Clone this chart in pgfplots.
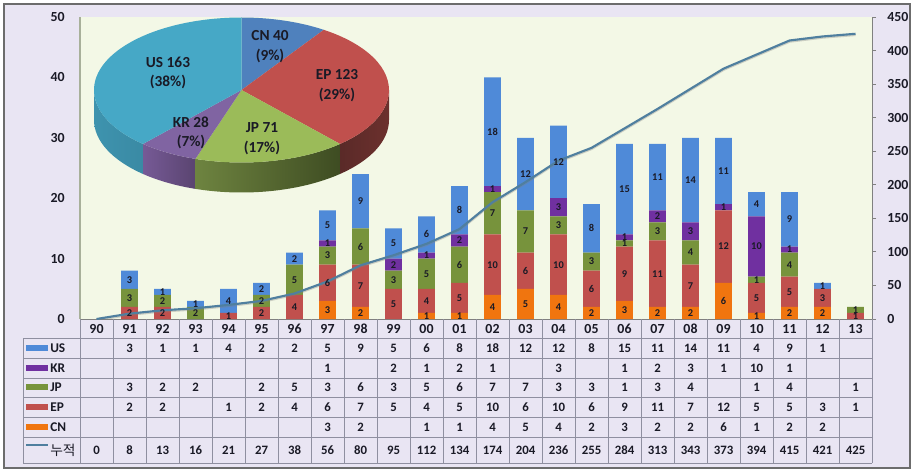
\documentclass[border=0pt]{standalone}
\usepackage{pgfplots}
\usepackage{pgfplotstable}
\usepackage{fontspec}
\pgfplotsset{compat=1.18}
\setmainfont{Carlito}
\newfontfamily\krfont{Noto Sans CJK KR}
\definecolor{cUS}{HTML}{4F8AD8}
\definecolor{cKR}{HTML}{7030A0}
\definecolor{cJP}{HTML}{77933C}
\definecolor{cEP}{HTML}{C0504D}
\definecolor{cCN}{HTML}{F0750F}
\definecolor{cLine}{HTML}{4F7F9F}
\definecolor{cGrid}{HTML}{8F8FA0}
\definecolor{cBack}{HTML}{E9E5F3}
\definecolor{cPlot}{HTML}{F3F8E6}
\definecolor{cText}{HTML}{1A1A26}
\definecolor{cAxisL}{HTML}{A8B09A}
\definecolor{pCN}{HTML}{4F81BD}
\definecolor{pEP}{HTML}{C0504D}
\definecolor{pJP}{HTML}{9BBB59}
\definecolor{pKR}{HTML}{8064A2}
\definecolor{pUS}{HTML}{46A8C6}
\definecolor{s1l}{HTML}{3E93AE}\definecolor{s1r}{HTML}{3A8AA4}
\definecolor{s2l}{HTML}{765A96}\definecolor{s2r}{HTML}{5A4470}
\definecolor{s3l}{HTML}{6E8440}\definecolor{s3r}{HTML}{3E4C22}
\definecolor{s4l}{HTML}{5A2A28}\definecolor{s4r}{HTML}{6C302D}
\pgfplotstableread{
x CN EP JP KR US Total
0 0 0 0 0 0 0
1 0 2 3 0 3 8
2 0 2 2 0 1 13
3 0 0 2 0 1 16
4 0 1 0 0 4 21
5 0 2 2 0 2 27
6 0 4 5 0 2 38
7 3 6 3 1 5 56
8 2 7 6 0 9 80
9 0 5 3 2 5 95
10 1 4 5 1 6 112
11 1 5 6 2 8 134
12 4 10 7 1 18 174
13 5 6 7 0 12 204
14 4 10 3 3 12 236
15 2 6 3 0 8 255
16 3 9 1 1 15 284
17 2 11 3 2 11 313
18 2 7 4 3 14 343
19 6 12 0 1 11 373
20 1 5 1 10 4 394
21 2 5 4 1 9 415
22 2 3 0 0 1 421
23 0 1 1 0 0 425
}\datatable
\pgfplotsset{
  common/.style={
    at={(60pt,114.75pt)}, anchor=south west, scale only axis,
    width=594pt, height=226.5pt,
    xmin=-0.5, xmax=23.5,
    /pgf/number format/assume math mode=true,
    tick label style={font=\bfseries\fontsize{10.4}{12}\selectfont, text=cText},
  },
  barseries/.style={fill=#1, draw=none},
  labelseries/.style={
    draw=none, mark=none, forget plot,
    restrict expr to domain={\thisrow{#1}}{0.5:100},
    point meta={\thisrow{#1}},
    nodes near coords,
    every node near coord/.append style={
      anchor=center, inner sep=0pt, text=cText,
      font=\bfseries\fontsize{7.8}{9}\selectfont,
    },
  },
}
\begin{document}
\begin{tikzpicture}
\begin{scope}[x=0.75pt,y=0.75pt]
\useasboundingbox (0,0) rectangle (914,472);
\fill[white] (0,0) rectangle (914,472);
\filldraw[fill=cBack,draw=gray!85!black,line width=0.9pt] (4,4) rectangle (910,468);
\fill[cPlot] (80,153) rectangle (872,455);
\end{scope}

\begin{axis}[common,
  ybar stacked, bar width=12.4pt, bar shift=0pt,
  ymin=0, ymax=50, ytick={0,10,...,50},
  axis y line*=left, axis x line*=bottom,
  y axis line style={draw=cAxisL, line width=1.4pt, -},
  x axis line style={draw=gray, line width=0.7pt, -},
  xtick=data,
  xticklabels={90,91,92,93,94,95,96,97,98,99,00,01,02,03,04,05,06,07,08,09,10,11,12,13},
  major tick length=0pt,
  xticklabel style={anchor=center, yshift=-7.5pt},
  yticklabel style={anchor=east, xshift=-8pt},
]
\addplot[barseries=cCN] table[x=x,y=CN]{\datatable};
\addplot[barseries=cEP] table[x=x,y=EP]{\datatable};
\addplot[barseries=cJP] table[x=x,y=JP]{\datatable};
\addplot[barseries=cKR] table[x=x,y=KR]{\datatable};
\addplot[barseries=cUS] table[x=x,y=US]{\datatable};
\end{axis}

\begin{axis}[common,
  ymin=0, ymax=450, ytick={0,50,...,450},
  axis y line*=right, axis x line=none,
  y axis line style={draw=gray, line width=0.7pt, -},
  ytick style={draw=gray, line width=0.7pt},
  tick align=outside, major tick length=3pt,
  yticklabel style={anchor=west, xshift=5pt},
]
\addplot[gray, opacity=0.35, line width=1.8pt, line join=round, yshift=-0.8pt] table[x=x,y=Total]{\datatable};
\addplot[cLine, line width=1.6pt, line join=round] table[x=x,y=Total]{\datatable};
\end{axis}

\begin{axis}[common, hide axis, ymin=0, ymax=50]
\addplot[labelseries=CN] table[x=x, y expr={0.5*\thisrow{CN}}]{\datatable};
\addplot[labelseries=EP] table[x=x, y expr={\thisrow{CN}+0.5*\thisrow{EP}}]{\datatable};
\addplot[labelseries=JP] table[x=x, y expr={\thisrow{CN}+\thisrow{EP}+0.5*\thisrow{JP}}]{\datatable};
\addplot[labelseries=KR] table[x=x, y expr={\thisrow{CN}+\thisrow{EP}+\thisrow{JP}+0.5*\thisrow{KR}}]{\datatable};
\addplot[labelseries=US] table[x=x, y expr={\thisrow{CN}+\thisrow{EP}+\thisrow{JP}+\thisrow{KR}+0.5*\thisrow{US}}]{\datatable};
\end{axis}

\begin{scope}[x=0.75pt,y=0.75pt]
% table
\draw[cGrid, line width=0.6pt]
  (23,134) -- (872,134) (23,114) -- (872,114) (23,94) -- (872,94)
  (23,75) -- (872,75) (23,55) -- (872,55) (23,35) -- (872,35) (23,9) -- (872,9);
\draw[cGrid, line width=0.6pt] (23,134) -- (23,9);
\foreach \i in {0,...,24} \draw[cGrid, line width=0.6pt] ({80+33*\i},153) -- ({80+33*\i},9);

\tikzset{cell/.style={inner sep=0pt, text=cText, font=\bfseries\fontsize{9.6}{11}\selectfont}}
\foreach \row/\yy in {
  {,3,1,1,4,2,2,5,9,5,6,8,18,12,12,8,15,11,14,11,4,9,1,}/124,
  {,,,,,,,1,,2,1,2,1,,3,,1,2,3,1,10,1,,}/104,
  {,3,2,2,,2,5,3,6,3,5,6,7,7,3,3,1,3,4,,1,4,,1}/85,
  {,2,2,,1,2,4,6,7,5,4,5,10,6,10,6,9,11,7,12,5,5,3,1}/65,
  {,,,,,,,3,2,,1,1,4,5,4,2,3,2,2,6,1,2,2,}/45,
  {0,8,13,16,21,27,38,56,80,95,112,134,174,204,236,255,284,313,343,373,394,415,421,425}/22}{
  \foreach \v [count=\k from 0] in \row {
    \node[cell] at ({96.5+33*\k},\yy) {\v};
  }
}
% legend keys
\foreach \c/\yy/\t in {cUS/124/US, cKR/104/KR, cJP/85/JP, cEP/65/EP, cCN/45/CN}{
  \fill[\c] (26,\yy-3) rectangle (48,\yy+3);
  \node[cell, anchor=west, font=\bfseries\fontsize{10}{12}\selectfont] at (50,\yy) {\t};
}
\draw[cLine, line width=1.4pt] (26,27) -- (48,27);
\node[cell, anchor=west, font=\krfont\fontsize{10.3}{12}\selectfont] at (50,22) {누적};

% pie
\def\cx{241.5}\def\cyy{382}\def\rx{147.5}\def\ry{72.5}\def\dep{30}
\def\sidewall#1#2#3#4{%
  \shade[left color=#3, right color=#4]
    ({\cx+\rx*cos(#1)},{\cyy+\ry*sin(#1)})
    arc[x radius=\rx, y radius=\ry, start angle=#1, end angle=#2]
    -- ++(0,-\dep)
    arc[x radius=\rx, y radius=\ry, start angle=#2, end angle=#1]
    -- cycle;}
\sidewall{180}{228.1}{s1l}{s1r}
\sidewall{228.1}{251.8}{s2l}{s2r}
\sidewall{251.8}{311.9}{s3l}{s3r}
\sidewall{311.9}{360}{s4l}{s4r}
\def\slice#1#2#3{%
  \fill[#3] (\cx,\cyy) -- ({\cx+\rx*cos(#1)},{\cyy+\ry*sin(#1)})
    arc[x radius=\rx, y radius=\ry, start angle=#1, end angle=#2] -- cycle;}
\slice{90}{56.1}{pCN}
\slice{56.1}{-48.1}{pEP}
\slice{-48.1}{-108.2}{pJP}
\slice{-108.2}{-131.9}{pKR}
\slice{-131.9}{-270}{pUS}
\tikzset{pl/.style={inner sep=0pt, text=cText, font=\bfseries\fontsize{11.5}{13}\selectfont}}
\foreach \px/\py/\a/\b in {168/410/US 163/(38\%), 270/436/CN 40/(9\%), 337/397/EP 123/(29\%), 262/344/JP 71/(17\%), 191/350/KR 28/(7\%)}{
  \node[pl] at (\px,\py) {\a};
  \node[pl] at (\px,\py-19.5) {\b};
}
\end{scope}
\end{tikzpicture}
\end{document}
